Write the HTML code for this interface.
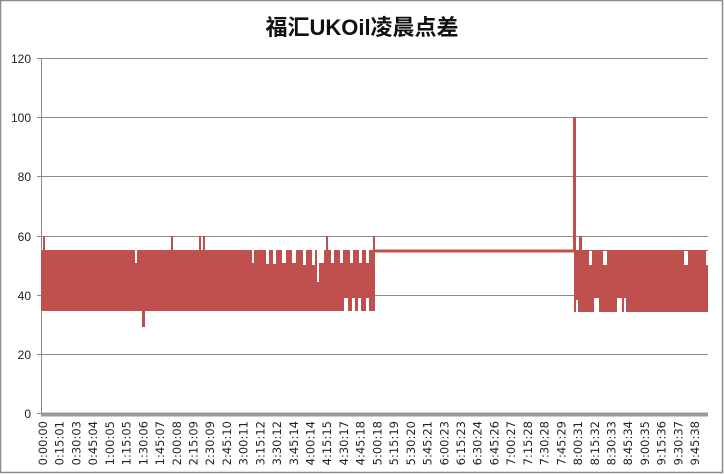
<!DOCTYPE html>
<html><head><meta charset="utf-8"><style>
html,body{margin:0;padding:0;background:#fff}
svg{display:block}
</style></head><body>
<svg width="724" height="474" viewBox="0 0 724 474" xmlns="http://www.w3.org/2000/svg" font-family="'Liberation Sans','DejaVu Sans',sans-serif">
<rect x="0.5" y="0.5" width="722" height="472" fill="#fff" stroke="#8c8c8c" stroke-width="1.5"/>
<text x="362" y="35" text-anchor="middle" font-size="22" font-weight="bold" fill="#111" font-family="'Liberation Sans','Noto Sans CJK SC',sans-serif">福汇UKOil凌晨点差</text>
<g stroke="#8a8a8a" stroke-width="1">
<line x1="37" y1="58.5" x2="708" y2="58.5"/>
<line x1="37" y1="117.5" x2="708" y2="117.5"/>
<line x1="37" y1="176.5" x2="708" y2="176.5"/>
<line x1="37" y1="236.5" x2="708" y2="236.5"/>
<line x1="37" y1="295.5" x2="708" y2="295.5"/>
<line x1="37" y1="354.5" x2="708" y2="354.5"/>
<line x1="41.5" y1="58" x2="41.5" y2="414"/>
</g>
<g font-size="12" fill="#222" text-anchor="end">
<text x="31" y="63">120</text><text x="31" y="122">100</text><text x="31" y="181">80</text>
<text x="31" y="241">60</text><text x="31" y="300">40</text><text x="31" y="359">20</text><text x="31" y="418">0</text>
</g>
<!-- series -->
<g fill="#c0504d">
<rect x="41" y="250" width="334" height="61"/>
<rect x="43" y="236" width="2" height="16"/>
<rect x="142" y="300" width="3" height="27"/>
<rect x="171" y="236" width="2" height="16"/>
<rect x="199" y="236" width="2" height="16"/>
<rect x="203" y="236" width="2" height="16"/>
<rect x="326" y="236" width="2" height="16"/>
<rect x="373" y="236" width="2" height="16"/>
<rect x="375" y="249.5" width="199" height="3"/>
<rect x="573" y="117" width="3" height="135"/>
<rect x="574" y="250" width="134" height="62"/>
<rect x="579" y="236" width="3" height="16"/>
</g>
<g fill="#fff">
<rect x="135" y="250" width="2" height="13"/>
<rect x="252" y="250" width="2" height="13"/>
<rect x="266" y="250" width="3" height="14"/>
<rect x="273" y="250" width="3" height="14"/>
<rect x="282" y="250" width="4" height="13"/>
<rect x="292" y="250" width="4" height="13"/>
<rect x="303" y="250" width="3" height="15"/>
<rect x="312" y="250" width="3" height="15"/>
<rect x="317" y="250" width="7" height="13"/>
<rect x="331" y="250" width="3" height="13"/>
<rect x="340" y="250" width="3" height="13"/>
<rect x="350" y="250" width="3" height="13"/>
<rect x="359" y="250" width="3" height="13"/>
<rect x="366" y="250" width="3" height="13"/>
<rect x="317" y="263" width="2" height="19"/>
<rect x="344" y="298" width="4" height="13"/>
<rect x="352" y="298" width="3" height="13"/>
<rect x="358" y="298" width="3" height="13"/>
<rect x="366" y="298" width="3" height="13"/>
<rect x="574" y="250" width="2" height="0"/>
<rect x="589" y="251" width="3" height="14"/>
<rect x="603" y="251" width="4" height="14"/>
<rect x="684" y="251" width="4" height="14"/>
<rect x="706" y="251" width="2" height="14"/>
<rect x="576" y="300" width="2" height="12"/>
<rect x="594" y="298" width="5" height="14"/>
<rect x="617" y="298" width="5" height="14"/>
<rect x="624" y="298" width="2" height="14"/>
</g>
<rect x="41" y="412.5" width="667" height="4" fill="#9a9a9a"/>
<line x1="37" y1="413.5" x2="41" y2="413.5" stroke="#8a8a8a"/>
<g font-size="11.5" fill="#222" text-anchor="end" font-family="'DejaVu Sans',sans-serif">
<text transform="translate(47,421) rotate(-90)">0:00:00</text>
<text transform="translate(63.7,421) rotate(-90)">0:15:01</text>
<text transform="translate(80.4,421) rotate(-90)">0:30:03</text>
<text transform="translate(97.2,421) rotate(-90)">0:45:04</text>
<text transform="translate(113.9,421) rotate(-90)">1:00:05</text>
<text transform="translate(130.6,421) rotate(-90)">1:15:05</text>
<text transform="translate(147.3,421) rotate(-90)">1:30:06</text>
<text transform="translate(164,421) rotate(-90)">1:45:07</text>
<text transform="translate(180.8,421) rotate(-90)">2:00:08</text>
<text transform="translate(197.5,421) rotate(-90)">2:15:09</text>
<text transform="translate(214.2,421) rotate(-90)">2:30:09</text>
<text transform="translate(230.9,421) rotate(-90)">2:45:10</text>
<text transform="translate(247.6,421) rotate(-90)">3:00:11</text>
<text transform="translate(264.4,421) rotate(-90)">3:15:12</text>
<text transform="translate(281.1,421) rotate(-90)">3:30:12</text>
<text transform="translate(297.8,421) rotate(-90)">3:45:14</text>
<text transform="translate(314.5,421) rotate(-90)">4:00:14</text>
<text transform="translate(331.2,421) rotate(-90)">4:15:15</text>
<text transform="translate(348,421) rotate(-90)">4:30:17</text>
<text transform="translate(364.7,421) rotate(-90)">4:45:18</text>
<text transform="translate(381.4,421) rotate(-90)">5:00:18</text>
<text transform="translate(398.1,421) rotate(-90)">5:15:19</text>
<text transform="translate(414.8,421) rotate(-90)">5:30:20</text>
<text transform="translate(431.6,421) rotate(-90)">5:45:21</text>
<text transform="translate(448.3,421) rotate(-90)">6:00:23</text>
<text transform="translate(465,421) rotate(-90)">6:15:23</text>
<text transform="translate(481.7,421) rotate(-90)">6:30:24</text>
<text transform="translate(498.4,421) rotate(-90)">6:45:26</text>
<text transform="translate(515.2,421) rotate(-90)">7:00:27</text>
<text transform="translate(531.9,421) rotate(-90)">7:15:28</text>
<text transform="translate(548.6,421) rotate(-90)">7:30:28</text>
<text transform="translate(565.3,421) rotate(-90)">7:45:29</text>
<text transform="translate(582,421) rotate(-90)">8:00:31</text>
<text transform="translate(598.8,421) rotate(-90)">8:15:32</text>
<text transform="translate(615.5,421) rotate(-90)">8:30:33</text>
<text transform="translate(632.2,421) rotate(-90)">8:45:34</text>
<text transform="translate(648.9,421) rotate(-90)">9:00:35</text>
<text transform="translate(665.6,421) rotate(-90)">9:15:36</text>
<text transform="translate(682.4,421) rotate(-90)">9:30:37</text>
<text transform="translate(699.1,421) rotate(-90)">9:45:38</text>
</g>
</svg>
</body></html>
